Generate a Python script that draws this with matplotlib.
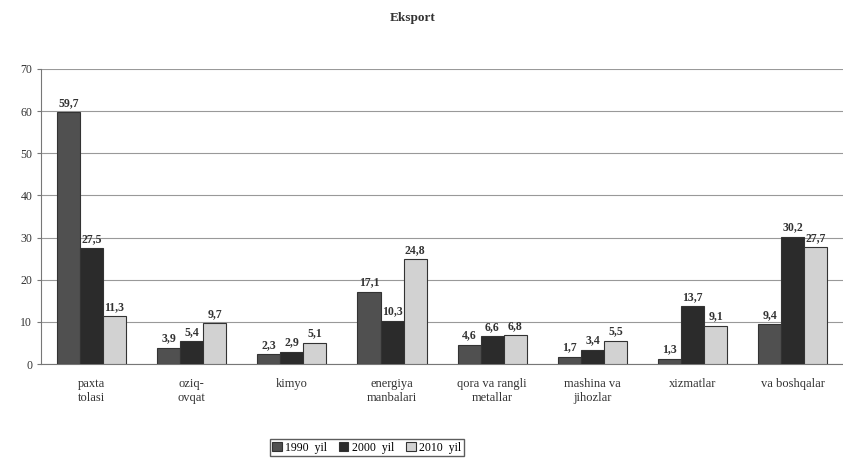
import matplotlib.pyplot as plt
import numpy as np

categories = ['paxta\ntolasi', 'oziq-\novqat', 'kimyo', 'energiya\nmanbalari',
              'qora va rangli\nmetallar', 'mashina va\njihozlar', 'xizmatlar', 'va boshqalar']
y1990 = [59.7, 3.9, 2.3, 17.1, 4.6, 1.7, 1.3, 9.4]
y2000 = [27.5, 5.4, 2.9, 10.3, 6.6, 3.4, 13.7, 30.2]
y2010 = [11.3, 9.7, 5.1, 24.8, 6.8, 5.5, 9.1, 27.7]
series = [('1990  yil', y1990, '#505050'), ('2000  yil', y2000, '#2b2b2b'), ('2010  yil', y2010, '#d2d2d2')]

plt.rcParams['font.family'] = ['Liberation Serif', 'DejaVu Serif']

fig = plt.figure(figsize=(8.43, 4.62), dpi=100)
ax = fig.add_axes([0.049, 0.212, 0.951, 0.639])

x = np.arange(len(categories))
w = 0.23
for i, (lab, vals, col) in enumerate(series):
    pos = x + (i - 1) * w
    ax.bar(pos, vals, width=w, color=col, edgecolor='#333333', linewidth=0.8, label=lab, zorder=3)
    for p, v in zip(pos, vals):
        ax.text(p, v + 0.8, f'{v:.1f}'.replace('.', ','), ha='center', va='bottom',
                fontsize=8.5, fontweight='bold', color='#333333', zorder=4)

ax.set_xlim(-0.5, len(categories) - 0.5)
ax.set_ylim(0, 70)
ax.set_yticks(range(0, 71, 10))
ax.yaxis.grid(True, color='#999999', linewidth=0.8, zorder=0)
ax.set_xticks(x)
ax.set_xticklabels(categories, fontsize=9, color='#333333')
ax.tick_params(axis='x', length=0, pad=10)
ax.tick_params(axis='y', labelsize=8.5, labelcolor='#333333', length=3, color='#777777')
for s in ['top', 'right']:
    ax.spines[s].set_visible(False)
ax.spines['left'].set_color('#777777')
ax.spines['bottom'].set_color('#777777')

fig.suptitle('Eksport', x=0.49, y=0.975, fontsize=9.5, fontweight='bold', color='#333333')
fig.legend(loc='lower center', bbox_to_anchor=(0.435, 0.0), ncol=3, fontsize=8.5,
           frameon=True, edgecolor='#333333', fancybox=False, handlelength=0.8,
           handleheight=0.8, columnspacing=1.0, handletextpad=0.3, borderpad=0.2)

fig.savefig('out.png', dpi=100)
